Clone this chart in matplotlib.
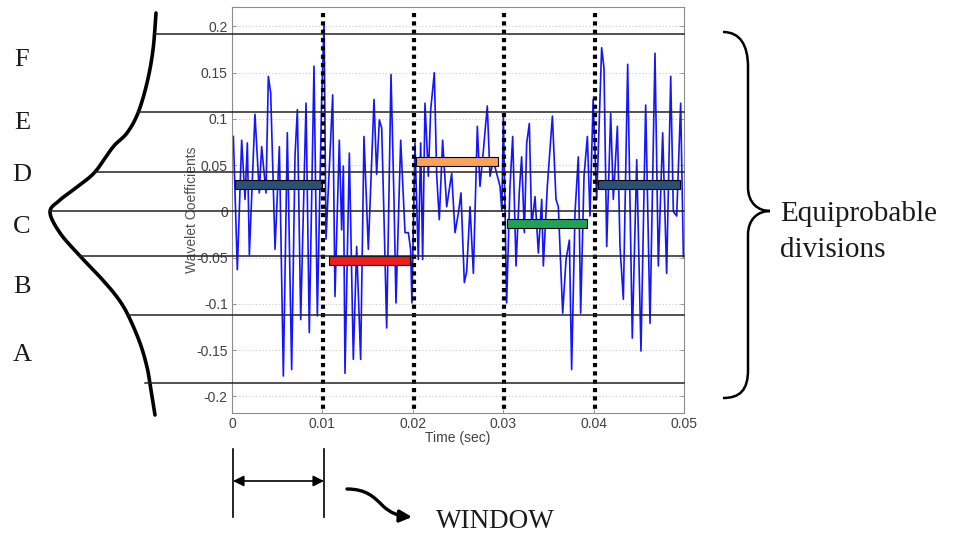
import matplotlib

matplotlib.use("Agg")
import numpy as np
import matplotlib.pyplot as plt
from matplotlib.path import Path
from matplotlib.patches import PathPatch, FancyArrowPatch

W, H = 958, 535
INK = "#1a1a1a"
SERIF = ["Liberation Serif", "DejaVu Serif"]
SANS = ["Liberation Sans", "DejaVu Sans"]

# wavelet coefficient trace (peaks / troughs)
time_s = [
    0.00015, 0.00059, 0.00107, 0.00144, 0.00170, 0.00192, 0.00254, 0.00302, 0.00328, 0.00376,
    0.00402, 0.00428, 0.00476, 0.00524, 0.00568, 0.00612, 0.00660, 0.00697, 0.00723, 0.00760,
    0.00819, 0.00855, 0.00907, 0.00944, 0.00992, 0.01018, 0.01040, 0.01114, 0.01139, 0.01187,
    0.01213, 0.01232, 0.01250, 0.01298, 0.01342, 0.01379, 0.01423, 0.01460, 0.01508, 0.01571,
    0.01600, 0.01630, 0.01656, 0.01681, 0.01711, 0.01759, 0.01792, 0.01814, 0.01866, 0.01914,
    0.01951, 0.01976, 0.01990, 0.02024, 0.02061, 0.02087, 0.02109, 0.02135, 0.02172, 0.02198,
    0.02238, 0.02264, 0.02293, 0.02330, 0.02375, 0.02430, 0.02467, 0.02504, 0.02533, 0.02570,
    0.02596, 0.02633, 0.02670, 0.02714, 0.02743, 0.02780, 0.02824, 0.02854, 0.02891, 0.02928,
    0.02965, 0.02985, 0.03002, 0.03038, 0.03075, 0.03105, 0.03142, 0.03179, 0.03204, 0.03234,
    0.03260, 0.03289, 0.03315, 0.03352, 0.03389, 0.03426, 0.03444, 0.03488, 0.03544, 0.03584,
    0.03610, 0.03658, 0.03695, 0.03732, 0.03757, 0.03794, 0.03831, 0.03857, 0.03894, 0.03931,
    0.03960, 0.03995, 0.04034, 0.04089, 0.04115, 0.04145, 0.04189, 0.04218, 0.04263, 0.04292,
    0.04329, 0.04377, 0.04428, 0.04477, 0.04524, 0.04576, 0.04624, 0.04679, 0.04716, 0.04764,
    0.04808, 0.04853, 0.04882, 0.04919, 0.04963, 0.04993,
]
coef = [
    0.081, -0.063, 0.077, 0.013, 0.074, -0.047, 0.105, 0.020, 0.070, 0.020,
    0.146, 0.128, -0.041, 0.070, -0.178, 0.085, -0.171, 0.060, 0.110, -0.117,
    0.117, -0.131, 0.157, -0.113, 0.121, 0.204, -0.030, 0.126, -0.092, 0.077,
    -0.020, 0.049, -0.175, 0.063, -0.160, -0.038, -0.160, 0.081, -0.041, 0.121,
    0.040, 0.099, 0.090, -0.005, -0.126, 0.148, 0.012, -0.099, 0.077, -0.023,
    -0.023, -0.041, -0.099, 0.074, -0.052, 0.074, -0.052, 0.117, 0.038, 0.110,
    0.150, 0.040, -0.009, 0.077, 0.005, 0.041, -0.023, -0.002, 0.020, -0.077,
    -0.065, 0.005, -0.067, 0.092, 0.027, 0.065, 0.114, 0.038, 0.055, 0.041,
    0.027, 0.000, 0.103, -0.099, 0.027, 0.081, -0.059, 0.023, 0.059, -0.023,
    0.074, 0.095, -0.016, 0.016, -0.045, 0.013, -0.059, 0.027, 0.103, 0.013,
    0.005, -0.110, -0.052, -0.031, -0.171, -0.002, 0.059, -0.110, 0.038, 0.081,
    -0.005, 0.121, 0.013, 0.177, 0.155, -0.038, 0.106, 0.013, 0.092, -0.038,
    -0.095, 0.159, -0.137, 0.056, -0.151, 0.115, -0.121, 0.171, -0.059, 0.085,
    -0.067, 0.146, 0.000, -0.005, 0.117, -0.049,
]

# window means
win_start = [0.0003, 0.0107, 0.0204, 0.0304, 0.0405]
win_end = [0.0100, 0.0197, 0.0294, 0.0393, 0.0496]
win_mean = [0.029, -0.0535, 0.0537, -0.013, 0.0294]
win_colors = ["#2c4f73", "#ee1c1c", "#f7a35c", "#1fa352", "#2c4f73"]
window_edges = [0.01, 0.02, 0.03, 0.04]

# equiprobable breakpoints and where each line starts on the bell curve (px)
division_levels = [0.192, 0.107, 0.043, 0.0, -0.048, -0.112, -0.186]
division_start_px = [155, 138, 95, 50, 80, 128, 145]

symbols = ["F", "E", "D", "C", "B", "A"]
symbol_y_px = [60, 123, 175, 227, 287, 355]

# bell curve outline (px)
bell_x = [156, 153, 147, 138, 127, 113, 95, 77, 60, 50, 60, 80, 100, 117, 128, 140, 147, 150, 155]
bell_y = [13, 50, 83, 113, 133, 147, 172, 187, 200, 212, 233, 256, 277, 297, 315, 343, 367, 384, 415]


def smooth(xs, ys, n=12):
    # catmull-rom through the traced points so the outline has no corners
    p = np.column_stack([xs, ys]).astype(float)
    p = np.vstack([p[0], p, p[-1]])
    out = []
    t = np.linspace(0, 1, n, endpoint=False)[:, None]
    for i in range(1, len(p) - 2):
        p0, p1, p2, p3 = p[i - 1], p[i], p[i + 1], p[i + 2]
        out.append(0.5 * (2 * p1 + (-p0 + p2) * t + (2 * p0 - 5 * p1 + 4 * p2 - p3) * t ** 2
                          + (-p0 + 3 * p1 - 3 * p2 + p3) * t ** 3))
    out.append(p[-2][None, :])
    out = np.vstack(out)
    return out[:, 0], out[:, 1]


fig = plt.figure(figsize=(W / 100, H / 100), dpi=100)
ax_l, ax_r, ax_t, ax_b = 232, 684, 7, 413
ax = fig.add_axes([ax_l / W, 1 - ax_b / H, (ax_r - ax_l) / W, (ax_b - ax_t) / H])

ax.plot(time_s, coef, color="#1414ff", lw=1.2, zorder=2)
for s, e, m, c in zip(win_start, win_end, win_mean, win_colors):
    ax.bar((s + e) / 2, 0.0097, width=e - s, bottom=m - 0.00485, color=c,
           edgecolor="black", linewidth=0.8, zorder=4)
for xe in window_edges:
    ax.plot([xe + 0.0001, xe + 0.0001], [0.214, -0.218], color="black", lw=3,
            linestyle=(0, (1, 1)), dash_capstyle="butt", zorder=5)

ax.set_xlim(0, 0.05)
ax.set_ylim(-0.218, 0.221)
ax.set_xticks([0, 0.01, 0.02, 0.03, 0.04, 0.05])
ax.set_xticklabels(["0", "0.01", "0.02", "0.03", "0.04", "0.05"])
ax.set_yticks([-0.2, -0.15, -0.1, -0.05, 0, 0.05, 0.1, 0.15, 0.2])
ax.set_yticklabels(["-0.2", "-0.15", "-0.1", "-0.05", "0", "0.05", "0.1", "0.15", "0.2"])
ax.tick_params(direction="in", length=3, width=0.6, right=True, top=False, colors="#888888",
               labelcolor="#404040", labelsize=10, pad=3)
for lab in ax.get_xticklabels() + ax.get_yticklabels():
    lab.set_fontfamily(SANS)
ax.grid(axis="y", color="#c8c8c8", linestyle=(0, (1, 2)), lw=0.8)
for sp in ax.spines.values():
    sp.set_color("#8c8c8c")
    sp.set_linewidth(0.8)
ax.set_xlabel("Time (sec)", fontsize=10, color="#404040", family=SANS, labelpad=0)
ax.set_ylabel("Wavelet Coefficients", fontsize=10, color="#505050", family=SANS, labelpad=-2)

# overlay in pixel coordinates for the annotations
ov = fig.add_axes([0, 0, 1, 1], zorder=3)
ov.set_xlim(0, W)
ov.set_ylim(H, 0)
ov.axis("off")

bx, by = smooth(bell_x, bell_y)
ov.plot(bx, by, color="black", lw=2.6, solid_capstyle="round", solid_joinstyle="round")

for lvl, x0 in zip(division_levels, division_start_px):
    py = H - ax.transData.transform((0, lvl))[1]
    ov.plot([x0, ax_r], [py, py], color="#222222", lw=1.1)

for s, y in zip(symbols, symbol_y_px):
    ov.text(22, y, s, ha="center", va="center", fontsize=19, family=SERIF, color=INK)

# brace
brace = Path(
    [(723, 32), (740, 32), (748, 45), (748, 67), (748, 187),
     (748, 203), (758, 211), (770, 211),
     (758, 211), (748, 219), (748, 235), (748, 370),
     (748, 390), (740, 398), (723, 398)],
    [Path.MOVETO, Path.CURVE4, Path.CURVE4, Path.CURVE4, Path.LINETO,
     Path.CURVE4, Path.CURVE4, Path.CURVE4,
     Path.CURVE4, Path.CURVE4, Path.CURVE4, Path.LINETO,
     Path.CURVE4, Path.CURVE4, Path.CURVE4])
ov.add_patch(PathPatch(brace, facecolor="none", edgecolor="black", lw=1.8))
ov.text(780, 214, "Equiprobable", ha="left", va="center", fontsize=21, family=SERIF, color=INK)
ov.text(780, 250, "divisions", ha="left", va="center", fontsize=21, family=SERIF, color=INK)

# window marker
for xv in (233, 324):
    ov.plot([xv, xv], [449, 517], color="black", lw=1.2)
ov.add_patch(FancyArrowPatch((233, 481), (324, 481), arrowstyle="<|-|>", mutation_scale=16,
                             color="black", lw=1.2, shrinkA=0, shrinkB=0))
curl = Path([(347, 489), (366, 489), (374, 497), (382, 505), (390, 513), (398, 516), (412, 517)],
            [Path.MOVETO, Path.CURVE4, Path.CURVE4, Path.CURVE4, Path.CURVE4, Path.CURVE4,
             Path.LINETO])
ov.add_patch(FancyArrowPatch(path=curl, arrowstyle="-|>", mutation_scale=18, color="black",
                             lw=2.4, shrinkA=0, shrinkB=0))
ov.text(436, 522, "WINDOW", ha="left", va="center", fontsize=19.5, family=SERIF, color=INK)

fig.savefig("out.png", dpi=100, facecolor="white")
